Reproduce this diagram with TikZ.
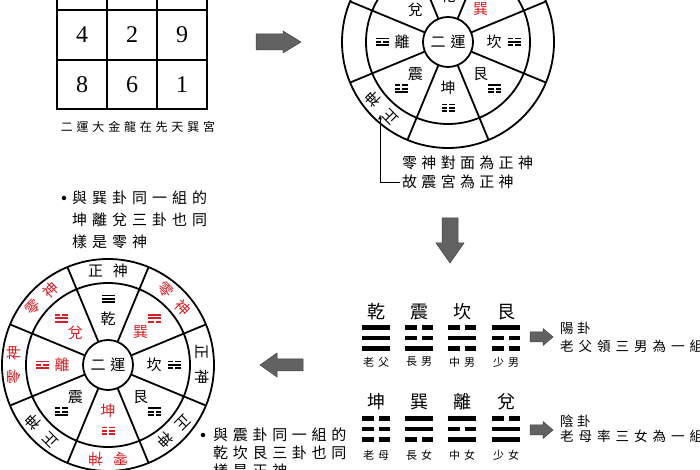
\documentclass[tikz,border=0pt]{standalone}
\usepackage{fontspec}
\usepackage{tikz}
\usetikzlibrary{calc}
\newfontfamily\zh{Noto Sans CJK TC}
\newfontfamily\tm{Liberation Serif}
\definecolor{lingred}{RGB}{214,30,36}
\definecolor{arrowgray}{RGB}{98,98,98}

% letter spaced text
\makeatletter
\newcommand\spread[2]{\edef\sp@list{#2}\def\sp@do{\@tfor\spch:=}%
  \expandafter\sp@do\sp@list\do{\spch\hskip#1\relax}\unskip}
\makeatother

% trigram: [style]{centre}{width}{half bar}{pitch}{half gap}{lines, top first}
\newcommand\gua[7][]{%
  \begin{scope}[shift={#2}]
  \foreach \bit [count=\row] in #7 {
    \pgfmathsetmacro\yy{(2-\row)*#5}
    \ifnum\bit=1
      \fill[#1] (-#3/2,\yy-#4) rectangle (#3/2,\yy+#4);
    \else
      \fill[#1] (-#3/2,\yy-#4) rectangle (-#6,\yy+#4);
      \fill[#1] (#6,\yy-#4) rectangle (#3/2,\yy+#4);
    \fi
  }
  \end{scope}}

\begin{document}
\begin{tikzpicture}[x=1pt, y=1pt,
    every node/.style={font=\zh, inner sep=0pt},
    ring/.style={line width=1.8pt},
    grid line/.style={line width=2pt},
    digit/.style={font=\tm\fontsize{24}{28}\selectfont},
    wheeltext/.style={font=\zh\fontsize{15}{17}\selectfont},
    guaname/.style={font=\zh\fontsize{18}{21}\selectfont},
    family/.style={font=\zh\fontsize{11}{13}\selectfont},
    note/.style={font=\zh\fontsize{15}{18}\selectfont, anchor=west},
    smallnote/.style={font=\zh\fontsize{13.5}{16}\selectfont, anchor=west},
    caption/.style={font=\zh\fontsize{12}{14}\selectfont},
    dot/.style={circle, fill, minimum size=4.5pt},
    bigarrow/.style={fill=arrowgray, draw=black!75, line width=0.5pt}]
    \useasboundingbox (0,0) rectangle (700,470);
    \clip (0,0) rectangle (700,470);

    % magic square
    \draw[grid line] (57,361) rectangle (207,520);
    \draw[grid line] (107,361) -- (107,520) (157,361) -- (157,520)
        (57,410) -- (207,410) (57,460) -- (207,460);
    \foreach \n/\x/\y in {4/82/435, 2/132/435, 9/182/435, 8/82/385.5, 6/132/385.5, 1/182/385.5}
        \node[digit] (sq\n) at (\x,\y) {\n};
    \node[caption] (cap) at (138,343) {\spread{3.8pt}{二運大金龍在先天巽宮}};

    % arrow to the right
    \draw[bigarrow] (256,420) -- (283,420) -- (283,417) -- (301,428)
        -- (283,439) -- (283,436) -- (256,436) -- cycle;

    % upper wheel
    \begin{scope}[shift={(448,428)}]
        \draw[ring] (0,0) circle (25) circle (82) circle (106);
        \foreach \a in {22.5,67.5,...,337.5} \draw[ring] (\a:25) -- (\a:106);
        \node[wheeltext] (r-yun) at (0,0) {\spread{5pt}{二運}};
        \foreach \a/\nm/\bars/\col [count=\s] in {90/乾/{1,1,1}/black, 45/巽/{1,1,0}/lingred,
                0/坎/{0,1,0}/black, -45/艮/{1,0,0}/black, -90/坤/{0,0,0}/black,
                -135/震/{0,0,1}/black, 180/離/{1,0,1}/black, 135/兌/{0,1,1}/black} {
            \node[wheeltext, text=\col] (r-nm\s) at (\a:46) {\nm};
            \gua[color=\col]{(\a:66)}{13}{0.9}{3.4}{1.1}{\bars}
        }
        \node[wheeltext, rotate=-225] (r-zheng) at (-135:94) {\spread{10pt}{正神}};
    \end{scope}

    % note under the upper wheel
    \node[note] (lingshen) at (402,307) {\spread{4.3pt}{零神對面為正神}};
    \node[note] (gu) at (402,288) {\spread{4.3pt}{故震宮為正神}};
    \draw[-latex, line width=0.7pt] ([xshift=-2pt]gu.west) -| ($(r-zheng)+(-1.5,-6)$);

    % arrow down
    \draw[bigarrow] (442,252) -- (458,252) -- (458,227) -- (464,227)
        -- (450,207) -- (436,227) -- (442,227) -- cycle;

    % remark on the left
    \node[dot] (dot1) at (64,272) {};
    \node[note] (t1a) at (72,272) {\spread{5pt}{與巽卦同一組的}};
    \node[note] (t1b) at (72,250) {\spread{5pt}{坤離兌三卦也同}};
    \node[note] (t1c) at (72,228) {\spread{5pt}{樣是零神}};

    % arrow to the left
    \draw[bigarrow] (303,99) -- (277,99) -- (277,93) -- (260,105)
        -- (277,117) -- (277,111) -- (303,111) -- cycle;

    % lower wheel
    \begin{scope}[shift={(108,105)}]
        \draw[ring] (0,0) circle (25) circle (82) circle (106);
        \foreach \a in {22.5,67.5,...,337.5} \draw[ring] (\a:25) -- (\a:106);
        \node[wheeltext] (l-yun) at (0,0) {\spread{5pt}{二運}};
        \foreach \a/\nm/\bars/\col [count=\s] in {90/乾/{1,1,1}/black, 45/巽/{1,1,0}/lingred,
                0/坎/{0,1,0}/black, -45/艮/{1,0,0}/black, -90/坤/{0,0,0}/lingred,
                -135/震/{0,0,1}/black, 180/離/{1,0,1}/lingred, 135/兌/{0,1,1}/lingred} {
            \node[wheeltext, text=\col] (l-nm\s) at (\a:46) {\nm};
            \gua[color=\col]{(\a:66)}{13}{0.9}{3.4}{1.1}{\bars}
        }
        \foreach \a/\txt/\col [count=\s] in {90/正神/black, 45/零神/lingred, 0/正神/black,
                -45/正神/black, -90/零神/lingred, -135/正神/black, 180/零神/lingred, 135/零神/lingred}
            \node[wheeltext, text=\col, rotate=\a-90] (l-out\s) at (\a:94) {\spread{10pt}{\txt}};
    \end{scope}

    % yang trigrams
    \foreach \x/\nm/\bars/\who [count=\s] in {376/乾/{1,1,1}/老父, 419/震/{0,0,1}/長男,
            462/坎/{0,1,0}/中男, 506/艮/{1,0,0}/少男} {
        \node[guaname] (yang\s) at (\x,158) {\nm};
        \gua{(\x,132)}{28}{2.25}{10.5}{2.5}{\bars}
        \node[family] (yangw\s) at (\x,108) {\spread{4pt}{\who}};
    }
    \draw[bigarrow] (530,128) -- (543,128) -- (543,124.5) -- (553,133)
        -- (543,141.5) -- (543,138) -- (530,138) -- cycle;
    \node[smallnote] (yang) at (560,142) {\spread{3.5pt}{陽卦}};
    \node[smallnote] (yangt) at (560,124) {\spread{5pt}{老父領三男為一組}};

    % yin trigrams
    \foreach \x/\nm/\bars/\who [count=\s] in {376/坤/{0,0,0}/老母, 419/巽/{1,1,0}/長女,
            462/離/{1,0,1}/中女, 506/兌/{0,1,1}/少女} {
        \node[guaname] (yin\s) at (\x,68) {\nm};
        \gua{(\x,41)}{28}{2.25}{10.5}{2.5}{\bars}
        \node[family] (yinw\s) at (\x,15) {\spread{4pt}{\who}};
    }
    \draw[bigarrow] (530,35) -- (543,35) -- (543,31.5) -- (553,40)
        -- (543,48.5) -- (543,45) -- (530,45) -- cycle;
    \node[smallnote] (yin) at (560,49) {\spread{3.5pt}{陰卦}};
    \node[smallnote] (yint) at (560,34) {\spread{5pt}{老母率三女為一組}};

    % remark at the bottom
    \node[dot] (dot2) at (203,35) {};
    \node[note] (t2a) at (213,35) {\spread{4.7pt}{與震卦同一組的}};
    \node[note] (t2b) at (213,17) {\spread{4.7pt}{乾坎艮三卦也同}};
    \node[note] (t2c) at (213,-1) {\spread{4.7pt}{樣是正神}};
\end{tikzpicture}
\end{document}
